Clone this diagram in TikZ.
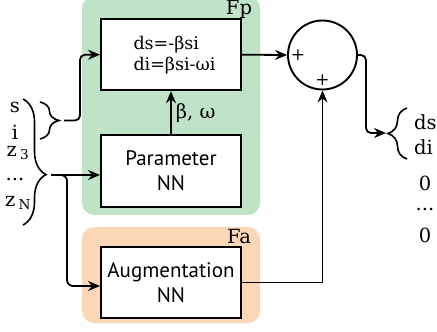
\documentclass[tikz,border=0pt]{standalone}
\usepackage{fontspec}
\setmainfont{DejaVu Serif}
\newfontfamily\boxfont{PT Sans}
\usetikzlibrary{arrows.meta,decorations.pathreplacing,calc}

\definecolor{paramgreen}{RGB}{192,227,200}
\definecolor{augorange}{RGB}{251,215,184}

\tikzset{
  blockbox/.style={draw, line width=2pt, fill=white, minimum width=140pt,
    font=\boxfont\fontsize{21}{25}\selectfont, align=center},
  sumnode/.style={draw, circle, line width=1.9pt, minimum size=69pt, inner sep=0pt},
  wire/.style={line width=1.8pt},
  arr/.style={wire, -{Stealth[length=12pt,width=10pt,inset=4pt]}},
  curly/.style={line width=1.6pt, decorate},
  lbl/.style={font=\fontsize{19.5}{22}\selectfont, inner sep=0pt},
  sign/.style={font=\fontsize{17}{17}\selectfont, inner sep=0pt},
}

\begin{document}
\begin{tikzpicture}[x=1pt,y=-1pt]
\useasboundingbox (0,0) rectangle (437,332);

% module backgrounds
\fill[paramgreen, rounded corners=12pt] (82,-4) rectangle (260,215);
\fill[augorange, rounded corners=12pt] (82,227) rectangle (260,323);
\node[lbl] (fp) at (239,9) {Fp};
\node[lbl] (fa) at (239,237) {Fa};

% blocks
\node[blockbox, minimum height=71pt, font=\fontsize{17.5}{21}\selectfont, align=left]
  (eq) at (171,54.7) {\hspace*{7pt}ds=-βsi\\\hspace*{7pt}di=βsi-ωi};
\node[blockbox, minimum height=72pt] (param) at (171,171) {Parameter\\NN};
\node[blockbox, minimum height=71pt] (aug) at (171,282.5) {Augmentation\\NN};
\node[sumnode] (sum) at (322.5,55) {};
\node[sign] (plusL) at (298,55) {+};
\node[sign] (plusB) at (322.5,80) {+};

% inputs
\node[lbl] (ins) at (15,107) {s};
\node[lbl] (ini) at (15,132) {i};
\node[lbl] (inz3) at (18,153) {z\,\textsubscript{3}};
\node[lbl] (indots) at (15,180) {...};
\node[lbl] (inzN) at (18,203) {z\,\textsubscript{N}};

% outputs
\node[lbl, anchor=west] (outds) at (414,122) {ds};
\node[lbl, anchor=west] (outdi) at (414,147) {di};
\node[lbl] (outz1) at (425,183) {0};
\node[lbl] (outdots) at (425,210) {...};
\node[lbl] (outz2) at (425,235) {0};

% braces
\coordinate (sbTop) at (40,102);
\coordinate (sbBot) at (40,139);
\coordinate (sbOut) at (64,120.5);
\draw[curly, decoration={brace, amplitude=19pt}] (sbTop) -- (sbBot);

\coordinate (bbTop) at (23,99);
\coordinate (bbBot) at (23,225);
\coordinate (bbOut) at (51,175);
\coordinate (bbLow) at (67,286);
\draw[curly, decoration={brace, amplitude=23pt, aspect=0.6}] (bbTop) -- (bbBot);

\coordinate (rbTop) at (407,108);
\coordinate (rbBot) at (407,159);
\coordinate (outTip) at (386,133);
\draw[curly, decoration={brace, amplitude=19pt}] (rbBot) -- (rbTop);

% connectors
\draw[arr, rounded corners=5pt] (sbOut) -- ++(16,0) |- (eq.west);
\draw[arr] (bbOut) -- (bbOut -| param.west);
\draw[arr, rounded corners=6pt] (bbOut) -| (bbLow) -- (bbLow -| aug.west);
\draw[arr] (param.north) -- node[lbl, right=4pt] (bw) {β, ω} (eq.south);
\draw[arr] (eq.east) -- (sum.west);
\draw[arr, line width=1.3pt] (aug.east) -| (sum.south);
\draw[arr, rounded corners=5pt] (sum.east) -- ++(8,0) |- (outTip);

\end{tikzpicture}
\end{document}
